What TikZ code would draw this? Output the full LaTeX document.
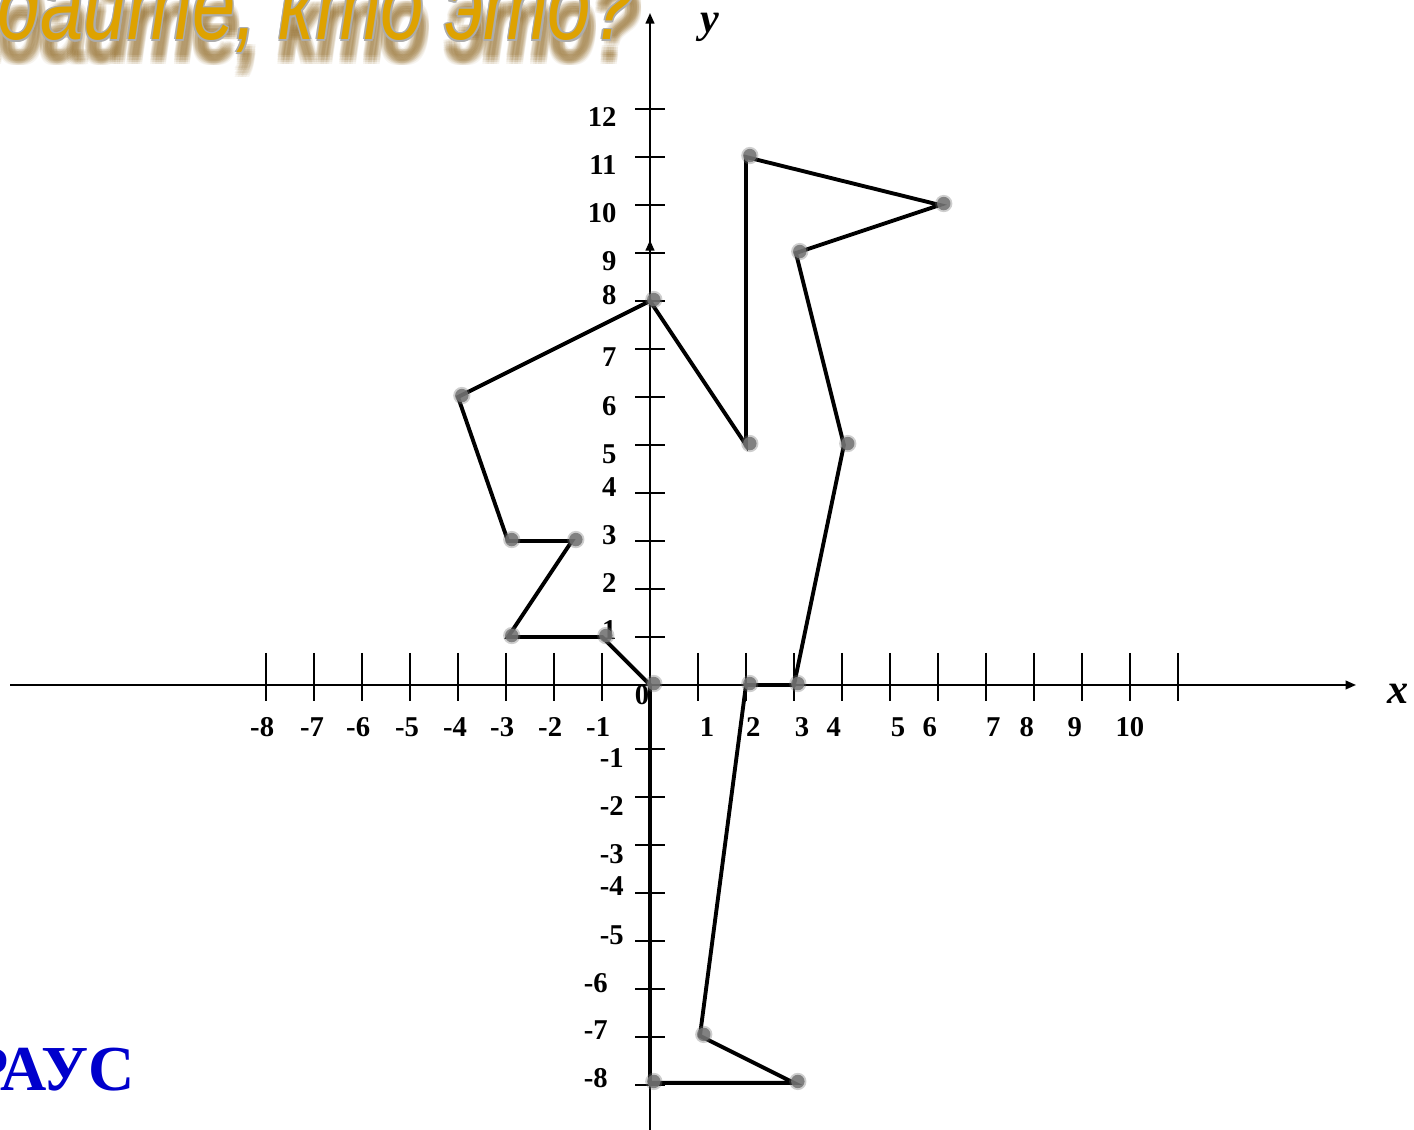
\documentclass[tikz,border=0pt]{standalone}
\usepackage{fontspec}
\setmainfont{Liberation Serif}
\newfontfamily\titlefont[FakeStretch=0.77]{Liberation Sans}
\usetikzlibrary{arrows.meta}
\definecolor{titlegold}{RGB}{222,162,0}
\definecolor{titleshadow}{RGB}{140,100,30}
\definecolor{wordblue}{RGB}{0,0,204}
\definecolor{dotgray}{RGB}{115,115,115}

\begin{document}
\begin{tikzpicture}[
  x=1cm, y=1cm,
  axis/.style={line width=1.2pt},
  tick/.style={line width=1.2pt},
  figline/.style={line width=2.3pt, line join=miter},
  num/.style={font=\fontsize{17}{19}\selectfont\bfseries, inner sep=0pt},
  axlbl/.style={font=\fontsize{25}{27}\selectfont\bfseries\itshape, inner sep=0pt},
  ttl/.style={font=\fontsize{60}{64}\selectfont\titlefont\itshape, inner sep=0pt, anchor=base east},
  dot/.style={circle, fill=dotgray, minimum size=2.8mm, inner sep=0pt, opacity=0.85},
  halo/.style={circle, fill=dotgray, minimum size=3.6mm, inner sep=0pt, opacity=0.35},
  >={Triangle[length=2.2mm,width=1.8mm]},
]
\useasboundingbox (-13.542,-9.271) rectangle (15.917,14.271);

% title with shadow and outline
\coordinate (ttlpos) at (-0.3125,13.44);
\foreach \dx in {-0.1,-0.05,0,0.05,0.1}
  \foreach \dy in {-0.1,-0.05,0,0.05,0.1}
    \node[ttl, text=titleshadow, opacity=0.07] at ([shift={(0.06+\dx,-0.42+\dy)}]ttlpos) {Угадайте, кто это?};
\foreach \a in {0,45,...,315}
  \node[ttl, text=gray!65] at ([shift={(\a:0.035)}]ttlpos) {Угадайте, кто это?};
\node[ttl, text=titlegold] (title) at (ttlpos) {Угадайте, кто это?};

% axes
\coordinate (O) at (0,0);
\coordinate (xl) at (-13.33,0);
\coordinate (xr) at (14.71,0);
\coordinate (yb) at (0,-9.3);
\coordinate (yt) at (0,14.0);
\coordinate (ym) at (0,9.27);
\draw[axis,->] (xl) -- (xr);
\draw[axis,->] (yb) -- (yt);
\draw[axis,->] (O) -- (ym);

% ticks
\foreach \i in {-8,...,-1,1,2,...,11}
  \draw[tick] (\i,0.667) -- (\i,-0.333);
\foreach \i in {1,...,12}
  \draw[tick] (-0.3125,\i) -- (0.3125,\i);
\foreach \i in {1,...,8}
  \draw[tick] (-0.3125,-\i-0.333) -- (0.3125,-\i-0.333);

% tick labels
\foreach \t/\p in {-8/-8.08,-7/-7.04,-6/-6.08,-5/-5.06,-4/-4.06,-3/-3.08,-2/-2.08,-1/-1.08,
                   1/1.19,2/2.15,3/3.17,4/3.83,5/5.17,6/5.83,7/7.15,8/7.85,9/8.85,10/10.0}
  \node[num] at (\p,-0.875) {\t};
\foreach \t/\p in {12/11.83,11/10.83,10/9.83,9/8.83,8/8.125,7/6.83,6/5.81,5/4.81,
                   4/4.125,3/3.125,2/2.125,1/1.146}
  \node[num, anchor=east] at (-0.69,\p) {\t};
\foreach \t/\p in {-1/-1.52,-2/-2.52,-3/-3.52,-4/-4.19,-5/-5.21}
  \node[num, anchor=east] at (-0.54,\p) {\t};
\foreach \t/\p in {-6/-6.21,-7/-7.19,-8/-8.19}
  \node[num, anchor=east] at (-0.875,\p) {\t};
\node[num] (zero) at (-0.167,-0.21) {0};
\node[axlbl] (ylbl) at (1.25,13.7) {y};
\node[axlbl] (xlbl) at (15.58,-0.19) {x};

% figure
\coordinate (a) at (0,0);
\coordinate (b) at (-1,1);
\coordinate (c) at (-2.96,1);
\coordinate (d) at (-1.625,3);
\coordinate (e) at (-2.96,3);
\coordinate (f) at (-4,6);
\coordinate (g) at (0,8);
\coordinate (h) at (2,5);
\coordinate (i) at (2,11);
\coordinate (j) at (6.04,10);
\coordinate (k) at (3.04,9);
\coordinate (l) at (4.04,5);
\coordinate (m) at (3,0);
\coordinate (n) at (2,0);
\coordinate (o) at (1.04,-7.31);
\coordinate (p) at (3,-8.29);
\coordinate (q) at (0,-8.29);
\draw[figline] (a) -- (b) -- (c) -- (d) -- (e) -- (f) -- (g) -- (h) -- (i) -- (j)
  -- (k) -- (l) -- (m) -- (n) -- (o) -- (p) -- (q) -- cycle;
\foreach \v in {a,...,q} {
  \node[halo, xshift=0.08cm, yshift=0.03cm] at (\v) {};
  \node[dot, xshift=0.08cm, yshift=0.03cm] at (\v) {};
}

% answer
\node[font=\fontsize{38}{40}\selectfont\bfseries, text=wordblue, inner sep=0pt, anchor=base east] (word) at (-10.73,-8.44) {СТРАУС};
\end{tikzpicture}
\end{document}
